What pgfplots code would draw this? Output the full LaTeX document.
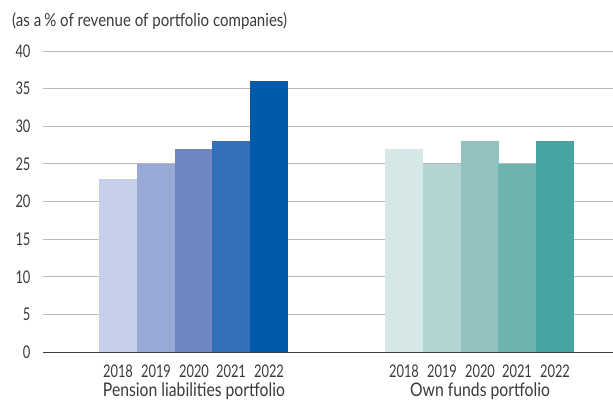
\documentclass[border=0pt]{standalone}
\usepackage{pgfplots}
\pgfplotsset{compat=1.18}
\usepackage{fontspec}
\setmainfont{Lato}[FakeStretch=0.84]
\newfontfamily\digitfont{Lato}[FakeStretch=0.74]
\definecolor{txt}{HTML}{3A3A3A}
\definecolor{pA}{HTML}{C8CFE9}
\definecolor{pB}{HTML}{99A9D6}
\definecolor{pC}{HTML}{6F86C3}
\definecolor{pD}{HTML}{3470BA}
\definecolor{pE}{HTML}{0359AA}
\definecolor{oA}{HTML}{D6E7E7}
\definecolor{oB}{HTML}{B2D4D3}
\definecolor{oC}{HTML}{92C3C1}
\definecolor{oD}{HTML}{6EB3AD}
\definecolor{oE}{HTML}{48A4A0}

\begin{document}
\begin{tikzpicture}
\begin{axis}[
    scale only axis,
    width=570bp, height=301bp,
    xmin=43, xmax=613,
    ymin=0, ymax=40,
    ytick={0,5,...,40},
    xtick={118,156,194,231,269,404,442,480,517,555},
    xticklabels={2018,2019,2020,2021,2022,2018,2019,2020,2021,2022},
    extra x ticks={194,480},
    extra x tick labels={Pension liabilities portfolio,Own funds portfolio},
    extra x tick style={grid=none, tick label style={yshift=-18bp, font=\fontsize{18.8}{20}\selectfont}},
    major tick length=0pt,
    ymajorgrids,
    grid style={draw=black!28, line width=0.8pt},
    axis lines*=left,
    y axis line style={draw=none},
    x axis line style={draw=black!75, line width=0.9pt, -},
    tick label style={font=\digitfont\fontsize{17.5}{20}\selectfont, text=txt},
    /pgf/number format/assume math mode=true,
    xticklabel style={yshift=-9bp},
    yticklabel style={xshift=-9bp},
    title={(as a\,\% of revenue of portfolio companies)},
    title style={at={(rel axis cs:0,1)}, anchor=base west, xshift=-31bp, yshift=19bp,
        font=\fontsize{18}{20}\selectfont, text=txt, inner sep=0pt},
    clip=false,
    every axis plot/.append style={ybar, bar width=37.9, bar shift=0pt, draw=none},
]
\addplot[fill=pA] coordinates {(118,23)};
\addplot[fill=pB] coordinates {(156,25)};
\addplot[fill=pC] coordinates {(194,27)};
\addplot[fill=pD] coordinates {(231,28)};
\addplot[fill=pE] coordinates {(269,36)};
\addplot[fill=oA] coordinates {(404,27)};
\addplot[fill=oB] coordinates {(442,25)};
\addplot[fill=oC] coordinates {(480,28)};
\addplot[fill=oD] coordinates {(517,25)};
\addplot[fill=oE] coordinates {(555,28)};
\end{axis}
\pgfresetboundingbox
\path ([shift={(-43bp,-49bp)}]current axis.south west) rectangle ([shift={(0bp,51bp)}]current axis.north east);
\end{tikzpicture}
\end{document}
